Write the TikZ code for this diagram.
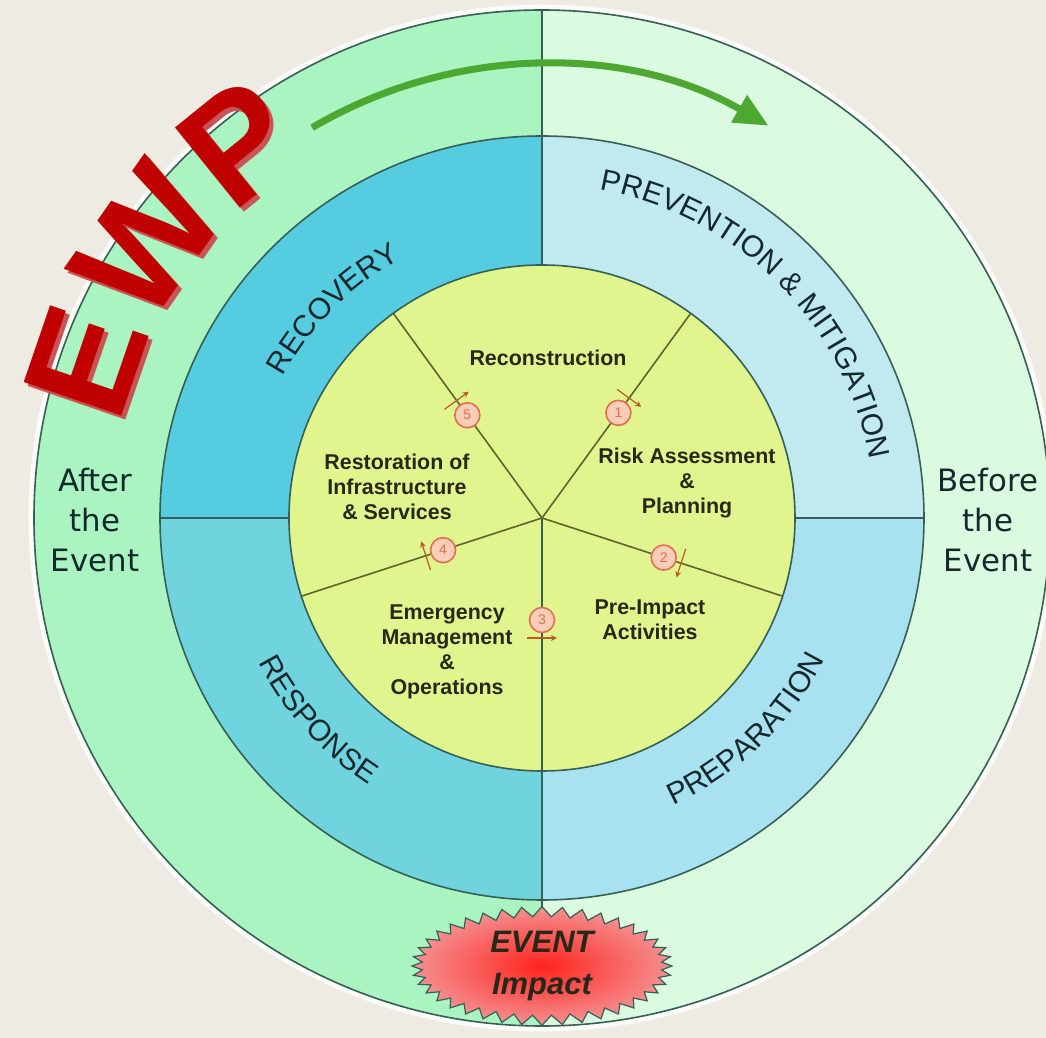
\documentclass[tikz,border=0pt]{standalone}
\usepackage{fontspec}
\setmainfont{Liberation Sans}
\newfontfamily\sidefont{DejaVu Sans}
\usetikzlibrary{arrows.meta,shapes.symbols,decorations.text}
\definecolor{mybeige}{RGB}{238,235,226}
\definecolor{myafter}{RGB}{170,244,194}
\definecolor{mybefore}{RGB}{218,251,224}
\definecolor{myrecovery}{RGB}{86,204,224}
\definecolor{myresponse}{RGB}{112,212,222}
\definecolor{myprevention}{RGB}{192,233,240}
\definecolor{mypreparation}{RGB}{168,226,240}
\definecolor{mycore}{RGB}{224,245,142}
\definecolor{myline}{RGB}{55,95,85}
\definecolor{myspoke}{RGB}{95,100,45}
\definecolor{mytext}{RGB}{40,40,25}
\definecolor{myringtext}{RGB}{20,40,45}
\definecolor{mynumfill}{RGB}{250,205,185}
\definecolor{mynumline}{RGB}{225,110,80}
\definecolor{mytick}{RGB}{185,90,40}
\definecolor{myarrow}{RGB}{76,168,48}
\definecolor{myeventin}{RGB}{255,35,30}
\definecolor{myeventout}{RGB}{244,145,145}
\definecolor{myewp}{RGB}{192,0,0}
\definecolor{myewpshadow}{RGB}{200,85,85}

\begin{document}
\begin{tikzpicture}[x=0.5pt,y=0.5pt,
    ringline/.style={draw=myline, line width=0.8pt},
    spoke/.style={draw=myspoke, line width=0.8pt},
    phase/.style={font=\bfseries\fontsize{10.7}{12.4}\selectfont, text=mytext, align=center},
    sidetext/.style={font=\sidefont\fontsize{15.4}{20}\selectfont, text=myringtext, align=center},
    stepnum/.style={circle, draw=mynumline, fill=mynumfill, line width=0.8pt, minimum size=12.5pt, inner sep=0pt, font=\fontsize{7}{7}\selectfont, text=mynumline},
    steptick/.style={draw=mytick, line width=0.6pt, -{Stealth[length=3pt,width=3pt]}},
    ringlabel/.style={decorate, decoration={text along path, text align=center, text={|\fontsize{15}{15}\selectfont\color{myringtext}|#1}}},
    ewplabel/.style={decorate, decoration={text along path, text align=center, text={|\bfseries\fontsize{75}{75}\selectfont\color{#1}|EWP}}},
    burst/.style={starburst, starburst points=40, starburst point height=5pt, random starburst=0, draw=myline, line width=0.6pt, shading=radial, inner color=myeventin, outer color=myeventout, minimum width=130pt, minimum height=50pt, inner sep=0pt, align=center, font=\bfseries\itshape\fontsize{15.5}{21}\selectfont, text=mytext}
]
    \def\rout{508}
    \def\rmid{382}
    \def\rin{253}
    \useasboundingbox (-542,-520) rectangle (504,518);
    \fill[mybeige] (-542,-520) rectangle (504,518);
    \coordinate (O) at (0,0);

    % outer ring: after / before the event
    \draw[white, line width=2.5pt, opacity=0.8] (O) circle (\rout+3);
    \fill[myafter] (0,0) -- (90:\rout) arc (90:270:\rout) -- cycle;
    \fill[mybefore] (0,0) -- (-90:\rout) arc (-90:90:\rout) -- cycle;

    % middle ring: the four phases
    \fill[myprevention] (0,0) -- (90:\rmid) arc (90:0:\rmid) -- cycle;
    \fill[mypreparation] (0,0) -- (0:\rmid) arc (0:-90:\rmid) -- cycle;
    \fill[myresponse] (0,0) -- (-90:\rmid) arc (-90:-180:\rmid) -- cycle;
    \fill[myrecovery] (0,0) -- (180:\rmid) arc (180:90:\rmid) -- cycle;

    % core
    \fill[mycore] (O) circle (\rin);

    % outlines
    \draw[ringline] (O) circle (\rout);
    \draw[ringline] (O) circle (\rmid);
    \draw[ringline] (O) circle (\rin);
    \coordinate (top) at (90:\rout);
    \coordinate (topin) at (90:\rin);
    \coordinate (bottom) at (-90:\rout);
    \coordinate (west) at (180:\rmid);
    \coordinate (westin) at (180:\rin);
    \coordinate (east) at (0:\rmid);
    \coordinate (eastin) at (0:\rin);
    \draw[ringline] (topin) -- (top);
    \draw[ringline] (O) -- (bottom);
    \draw[ringline] (west) -- (westin);
    \draw[ringline] (eastin) -- (east);

    % spokes of the core
    \foreach \ang [count=\i] in {54,-18,-162,126}
        \coordinate (s\i) at (\ang:\rin);
    \foreach \i in {1,...,4}
        \draw[spoke] (O) -- (s\i);

    % phase names on the ring
    \path[ringlabel={PREVENTION {\&} MITIGATION}] (100:333) arc (100:-10:333);
    \path[ringlabel={RECOVERY}] (175:295) arc (175:95:295);
    \path[ringlabel={RESPONSE}] (182:318) arc (182:262:318);
    \path[ringlabel={PREPARATION}] (-96:316) arc (-96:4:316);

    \node[sidetext] (after) at (-447,-2) {After\\the\\Event};
    \node[sidetext] (before) at (446,-2) {Before\\the\\Event};

    % activities
    \node[phase] (recon) at (6,160) {Reconstruction};
    \node[phase] (risk) at (145,35) {Risk Assessment\\\&\\Planning};
    \node[phase] (preimp) at (108,-102) {Pre-Impact\\Activities};
    \node[phase] (emerg) at (-95,-134) {Emergency\\Management\\\&\\Operations};
    \node[phase] (restor) at (-145,31) {Restoration of\\Infrastructure\\\& Services};

    % numbered steps (the tick of step 3 points to the right)
    \foreach \ang/\rad/\num/\dir in {54/130/1/1, -18/128/2/1, -90/102/3/-1, -162/104/4/1, 126/127/5/1} {
        \pgfmathsetmacro\rt{\rad+19}
        \pgfmathsetmacro\dt{\dir*15/\rt*180/pi}
        \draw[steptick] ({\ang+\dt}:\rt) -- ({\ang-\dt}:\rt);
        \node[stepnum] (n\num) at (\ang:\rad) {\num};
    }

    % direction of the cycle
    \draw[myarrow, line width=3.5pt, -{Triangle[length=17pt,width=15pt]}] (120.5:453) arc (120.5:60:453);

    \node[burst] (evt) at (0,-448) {EVENT\\Impact};

    % EWP
    \path[ewplabel=myewpshadow] ([shift={(4,-4)}]185:431) arc (185:105:431);
    \path[ewplabel=myewp] (185:431) arc (185:105:431);
\end{tikzpicture}
\end{document}
